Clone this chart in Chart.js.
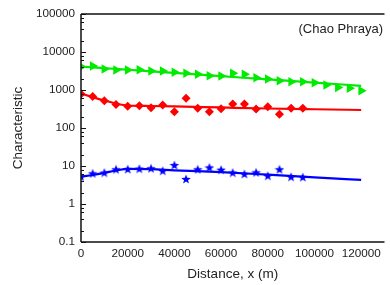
<!DOCTYPE html>
<html>
<head>
<meta charset="utf-8">
<script src="https://cdn.jsdelivr.net/npm/chart.js@4.4.1/dist/chart.umd.min.js"></script>
<style>
  html, body { margin: 0; padding: 0; background: #fff; overflow: hidden; }
</style>
</head>
<body>
<canvas id="chaoPhraya" width="390" height="285"></canvas>
<script>
// distances (m)
const xGreen = [0, 5000, 10000, 15000, 20000, 25000, 30000, 35000, 40000, 45000, 50000, 55000, 60000,
                65000, 70000, 75000, 80000, 85000, 90000, 95000, 100000, 105000, 110000, 115000, 120000];
const xRedBlue = [0, 5000, 10000, 15000, 20000, 25000, 30000, 35000, 40000, 45000,
                  50000, 55000, 60000, 65000, 70000, 75000, 80000, 85000, 90000, 95000];
const xFit = [0, 5000, 10000, 15000, 20000, 30000, 40000, 60000, 80000, 100000, 120000];

// measured values
const greenVals = [4100, 4280, 3570, 3360, 3360, 3420, 3160, 3160, 2920, 2750, 2590, 2380, 2340,
                   2750, 2590, 2110, 1950, 1760, 1650, 1650, 1560, 1350, 1170, 1110, 960];
const redVals = [780, 675, 523, 415, 372, 384, 342, 403, 269, 605,
                 330, 269, 320, 428, 428, 316, 364, 229, 330, 330];
const blueVals = [5.3, 6.4, 6.7, 8.2, 8.3, 8.5, 8.7, 7.5, 10.6, 4.55,
                  8.2, 9.2, 8.0, 6.7, 6.2, 6.8, 5.55, 8.2, 5.2, 5.1];

// fitted curves
const greenFit = [4150, 3950, 3760, 3590, 3410, 3100, 2810, 2310, 1900, 1560, 1290];
const redFit = [808, 650, 530, 441, 391, 379, 370, 347, 326, 311, 298];
const blueFit = [5.2, 5.8, 6.6, 7.6, 8.4, 8.3, 7.7, 6.9, 5.9, 5.0, 4.3];

// axis ticks
const xTicks = [0, 20000, 40000, 60000, 80000, 100000, 120000];
const yTicks = [0.1, 1, 10, 100, 1000, 10000, 100000];
const yMinor = [2, 4, 6, 8];

const GREEN = 'rgb(0,235,0)';
const RED = 'rgb(255,0,0)';
const BLUE = 'rgb(0,0,255)';
const FONT = "'Liberation Sans', Arial, sans-serif";

function pts(xs, ys) {
  return xs.map((x, i) => ({x: x, y: ys[i]}));
}

// filled five point star for the blue markers
function makeStar(size, color) {
  const c = document.createElement('canvas');
  c.width = size; c.height = size;
  const g = c.getContext('2d');
  const cx = size / 2, cy = size / 2 + 0.5;
  const ro = size / 2, ri = ro * 0.42;
  g.beginPath();
  for (let i = 0; i < 10; i++) {
    const r = i % 2 ? ri : ro;
    const a = -Math.PI / 2 + i * Math.PI / 5;
    g.lineTo(cx + r * Math.cos(a), cy + r * Math.sin(a));
  }
  g.closePath();
  g.fillStyle = color;
  g.fill();
  return c;
}
const starImg = makeStar(10, BLUE);

// frame + inward ticks on the y axis
const frame = {
  id: 'frame',
  afterDatasetsDraw(chart) {
    const {ctx, chartArea: a, scales: {y}} = chart;
    ctx.save();
    ctx.strokeStyle = '#111';
    ctx.lineWidth = 1.5;
    ctx.beginPath();
    ctx.moveTo(a.left, a.top); ctx.lineTo(a.right, a.top);
    ctx.moveTo(a.left, a.top); ctx.lineTo(a.left, a.bottom);
    ctx.moveTo(a.left, a.bottom); ctx.lineTo(a.right, a.bottom);
    ctx.stroke();
    ctx.lineWidth = 1;
    ctx.beginPath();
    yTicks.forEach((v, i) => {
      const py = Math.round(y.getPixelForValue(v)) + 0.5;
      ctx.moveTo(a.left, py); ctx.lineTo(a.left + 5, py);
      if (i < yTicks.length - 1) {
        yMinor.forEach(m => {
          const my = Math.round(y.getPixelForValue(v * m)) + 0.5;
          ctx.moveTo(a.left, my); ctx.lineTo(a.left + 3, my);
        });
      }
    });
    ctx.stroke();
    // label
    ctx.fillStyle = '#222';
    ctx.font = '13px ' + FONT;
    ctx.textAlign = 'right';
    ctx.textBaseline = 'middle';
    ctx.fillText('(Chao Phraya)', 383, 29);
    ctx.restore();
  }
};

const cfg = {
  type: 'scatter',
  data: {
    datasets: [
      {data: pts(xGreen, greenVals), pointStyle: 'triangle', rotation: 90, pointRadius: 5.5,
       backgroundColor: GREEN, borderColor: GREEN, borderWidth: 0},
      {data: pts(xRedBlue, redVals), pointStyle: 'rectRot', pointRadius: 4.5,
       backgroundColor: RED, borderColor: RED, borderWidth: 0},
      {data: pts(xRedBlue, blueVals), pointStyle: starImg,
       backgroundColor: BLUE, borderColor: BLUE},
      {data: pts(xFit, greenFit), showLine: true, pointRadius: 0, borderColor: GREEN, borderWidth: 2.2,
       cubicInterpolationMode: 'monotone'},
      {data: pts(xFit, redFit), showLine: true, pointRadius: 0, borderColor: RED, borderWidth: 2.2,
       cubicInterpolationMode: 'monotone'},
      {data: pts(xFit, blueFit), showLine: true, pointRadius: 0, borderColor: BLUE, borderWidth: 2.2,
       cubicInterpolationMode: 'monotone'}
    ]
  },
  options: {
    responsive: false,
    devicePixelRatio: 1,
    animation: false,
    layout: {padding: {top: 14, right: 0, left: 0, bottom: 0}},
    plugins: {legend: {display: false}, tooltip: {enabled: false}},
    scales: {
      x: {
        type: 'linear', min: 0, max: 130000,
        afterBuildTicks: s => { s.ticks = xTicks.map(v => ({value: v})); },
        afterFit: s => { s.height = 43; },
        grid: {display: false, drawTicks: false},
        border: {display: false},
        ticks: {color: '#222', padding: 5, font: {family: FONT, size: 11.7}, maxRotation: 0,
                autoSkip: false, callback: v => String(v)},
        title: {display: true, text: 'Distance, x (m)', color: '#222',
                font: {family: FONT, size: 13.5}, padding: {top: 0, bottom: 3}}
      },
      y: {
        type: 'logarithmic', min: 0.1, max: 100000,
        afterBuildTicks: s => { s.ticks = yTicks.map(v => ({value: v})); },
        afterFit: s => { s.width = 81; },
        grid: {display: false, drawTicks: false},
        border: {display: false},
        ticks: {color: '#222', padding: 6, font: {family: FONT, size: 11.7}, autoSkip: false,
                callback: v => String(v)},
        title: {display: true, text: 'Characteristic', color: '#222',
                font: {family: FONT, size: 13.5}, padding: {top: 10, bottom: 0}}
      }
    }
  },
  plugins: [frame]
};

new Chart(document.getElementById('chaoPhraya'), cfg);
</script>
</body>
</html>
